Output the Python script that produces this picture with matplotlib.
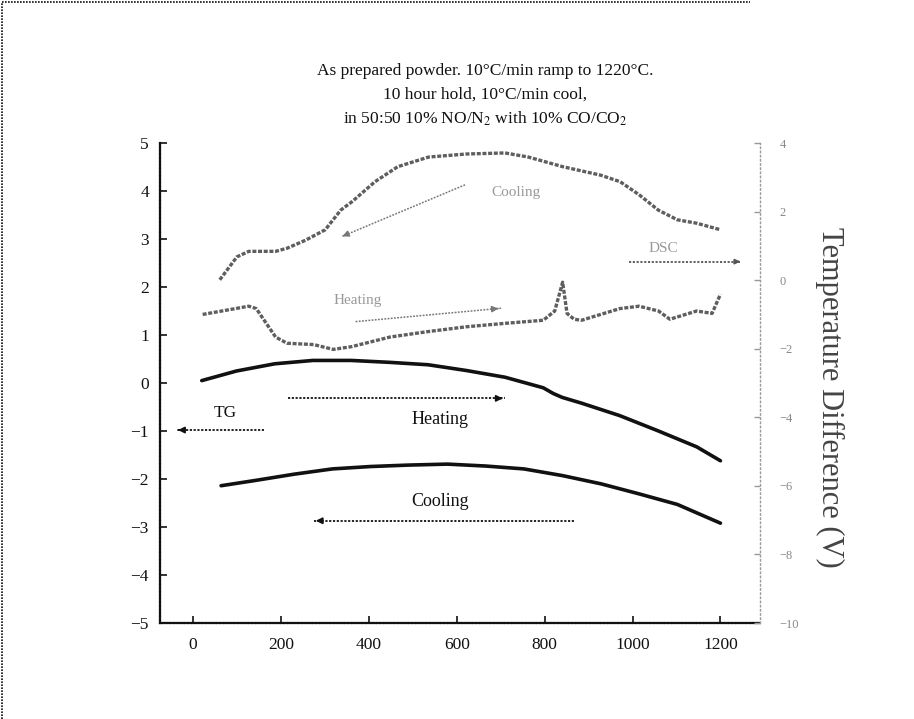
import matplotlib
matplotlib.use('Agg')
import matplotlib.pyplot as plt
from matplotlib.lines import Line2D

plt.rcParams['font.family'] = ['Liberation Serif', 'DejaVu Serif']
plt.rcParams['mathtext.fontset'] = 'stix'

# ---------------- data ----------------
title_lines = ["As prepared powder. 10\u00b0C/min ramp to 1220\u00b0C.",
               "10 hour hold, 10\u00b0C/min cool,",
               "in 50:50 10% NO/N$_2$ with 10% CO/CO$_2$"]

x_ticks = [0, 200, 400, 600, 800, 1000, 1200]
y_left_ticks = [5, 4, 3, 2, 1, 0, -1, -2, -3, -4, -5]
y_right_ticks = [4, 2, 0, -2, -4, -6, -8, -10]

# TG curves (left axis)
tg_heat_x = [20, 99, 186, 273, 360, 448, 535, 622, 710, 797, 820, 840, 884, 971, 1059, 1146, 1200]
tg_heat_y = [0.05, 0.25, 0.40, 0.47, 0.47, 0.43, 0.38, 0.26, 0.12, -0.10, -0.22, -0.30, -0.42, -0.68, -1.00, -1.33, -1.62]
tg_cool_x = [64, 142, 230, 317, 404, 491, 579, 666, 753, 841, 928, 1015, 1102, 1200]
tg_cool_y = [-2.14, -2.03, -1.90, -1.79, -1.74, -1.71, -1.69, -1.73, -1.79, -1.93, -2.10, -2.31, -2.53, -2.92]

# DSC curves (right axis)
dsc_cool_x = [61, 100, 127, 188, 214, 257, 301, 336, 362, 414, 466, 536, 623, 710, 763, 841, 928, 972, 1015, 1059, 1102, 1146, 1200]
dsc_cool_y = [0.01, 0.68, 0.84, 0.84, 0.93, 1.17, 1.47, 2.04, 2.29, 2.87, 3.31, 3.59, 3.68, 3.71, 3.59, 3.31, 3.06, 2.87, 2.49, 2.04, 1.76, 1.66, 1.47]
dsc_heat_x = [22, 127, 144, 188, 214, 275, 319, 361, 448, 535, 622, 710, 797, 823, 841, 851, 867, 884, 971, 1015, 1059, 1085, 1146, 1181, 1200]
dsc_heat_y = [-1.00, -0.76, -0.83, -1.66, -1.84, -1.88, -2.02, -1.94, -1.66, -1.50, -1.36, -1.26, -1.17, -0.90, -0.06, -0.97, -1.14, -1.17, -0.83, -0.76, -0.90, -1.14, -0.90, -0.97, -0.41]

# annotation arrows: (tail, head)
tg_arrow = ((162, -0.98), (-34, -0.98))
tg_heat_arrow = ((216, -0.32), (711, -0.32))
tg_cool_arrow = ((867, -2.87), (273, -2.87))
dsc_cool_arrow = ((619, 2.78), (340, 1.28))      # right axis units
dsc_heat_arrow = ((370, -1.21), (701, -0.82))    # right axis units
dsc_arrow = ((993, 0.54), (1245, 0.54))          # right axis units

# ---------------- figure ----------------
W, H = 914, 719
fig = plt.figure(figsize=(W / 100, H / 100), dpi=100)
ax = fig.add_axes([160 / W, 1 - 623 / H, 600 / W, 480 / H])
ax.set_xlim(-75, 1290)
ax.set_ylim(-5, 5)
ax2 = ax.twinx()
ax2.set_ylim(-10, 4)

dark = '#111111'
grey = '#5e5e5e'

# spines
for s in ['top', 'right']:
    ax.spines[s].set_visible(False)
for s in ['left', 'bottom']:
    ax.spines[s].set_linestyle((0, (1, 0.6)))
    ax.spines[s].set_linewidth(1.6)
    ax.spines[s].set_color(dark)
for s in ['top', 'left', 'bottom']:
    ax2.spines[s].set_visible(False)
ax2.spines['right'].set_linestyle((0, (1, 2)))
ax2.spines['right'].set_color('#999999')
ax2.spines['right'].set_linewidth(1.0)

ax.set_xticks(x_ticks)
ax.set_yticks(y_left_ticks)
ax.tick_params(direction='in', length=5, width=1.2, colors=dark, labelsize=12.5, pad=8)
ax.tick_params(axis='x', pad=10)
ax2.set_yticks(y_right_ticks)
ax2.tick_params(direction='in', length=4, width=1.0, colors='#999999', labelcolor='#888888',
                labelsize=9, pad=14)

# TG curves
ax.plot(tg_heat_x, tg_heat_y, color=dark, lw=2.6, solid_capstyle='round')
ax.plot(tg_cool_x, tg_cool_y, color=dark, lw=2.6, solid_capstyle='round')

# DSC curves
ax2.plot(dsc_cool_x, dsc_cool_y, color=grey, lw=2.4, ls=(0, (1.2, 0.5)))
ax2.plot(dsc_heat_x, dsc_heat_y, color=grey, lw=2.4, ls=(0, (1.2, 0.5)))


def dotted_arrow(a, tail, head, color, lw=1.3, head_scale=9):
    a.plot([tail[0], head[0]], [tail[1], head[1]], color=color, lw=lw, ls=(0, (1.2, 0.9)))
    a.annotate('', xy=head, xytext=(head[0] - (head[0] - tail[0]) * 0.04,
                                     head[1] - (head[1] - tail[1]) * 0.04),
               arrowprops=dict(arrowstyle='-|>', color=color, lw=lw, mutation_scale=head_scale))


dotted_arrow(ax, tg_arrow[0], tg_arrow[1], dark)
dotted_arrow(ax, tg_heat_arrow[0], tg_heat_arrow[1], dark)
dotted_arrow(ax, tg_cool_arrow[0], tg_cool_arrow[1], dark)
dotted_arrow(ax2, dsc_cool_arrow[0], dsc_cool_arrow[1], '#777777', lw=1.1)
dotted_arrow(ax2, dsc_heat_arrow[0], dsc_heat_arrow[1], '#777777', lw=1.1)
dotted_arrow(ax2, dsc_arrow[0], dsc_arrow[1], '#555555', lw=1.3, head_scale=7)

# labels
ax.text(73, -0.62, 'TG', fontsize=12.5, ha='center', va='center', color=dark)
ax.text(563, -0.75, 'Heating', fontsize=13, ha='center', va='center', color=dark)
ax.text(563, -2.47, 'Cooling', fontsize=13, ha='center', va='center', color=dark)
ax2.text(735, 2.55, 'Cooling', fontsize=11, ha='center', va='center', color='#999999')
ax2.text(375, -0.59, 'Heating', fontsize=11, ha='center', va='center', color='#999999')
ax2.text(1070, 0.92, 'DSC', fontsize=11, ha='center', va='center', color='#999999')

ax2.set_ylabel('Temperature Difference (V)', rotation=270, fontsize=22, color='#444444',
               labelpad=32)
ax2.yaxis.set_label_coords(1.14, 0.47)

# title
for i, line in enumerate(title_lines):
    fig.text(485 / W, 1 - (71 + 24 * i) / H, line, ha='center', va='center', fontsize=12.5,
             color=dark)

# scanned page border (dotted)
fig.add_artist(Line2D([2 / W, 750 / W], [1 - 2 / H, 1 - 2 / H], transform=fig.transFigure,
                      color=dark, lw=1.2, ls=(0, (1, 0.8))))
fig.add_artist(Line2D([2 / W, 2 / W], [0, 1 - 2 / H], transform=fig.transFigure,
                      color=dark, lw=1.2, ls=(0, (1, 0.8))))

fig.savefig('out.png', dpi=100)
